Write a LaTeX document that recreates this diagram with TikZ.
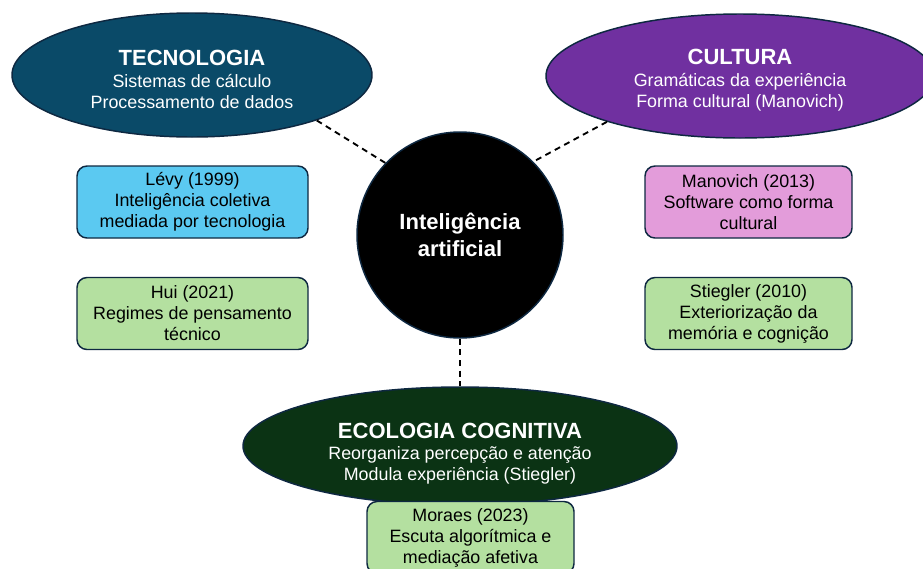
\documentclass[tikz,border=0pt]{standalone}
\usepackage{fontspec}
\setmainfont{Liberation Sans}
\usetikzlibrary{shapes.geometric}

\definecolor{tecblue}{HTML}{0A4A68}
\definecolor{cultpurple}{HTML}{7030A0}
\definecolor{ecogreen}{HTML}{0B3314}
\definecolor{levyblue}{HTML}{5BC9F1}
\definecolor{manopink}{HTML}{E39CDA}
\definecolor{refgreen}{HTML}{B4E0A0}
\definecolor{borda}{HTML}{0E2841}

\newcommand{\corpo}{\fontsize{13.4}{15.75}\selectfont}
\newcommand{\titulo}{\fontsize{16.5}{20}\selectfont\bfseries}

\begin{document}
\begin{tikzpicture}[x=0.75pt, y=-0.75pt,
	eixo/.style={ellipse, draw=borda, line width=1.1pt, inner sep=0pt, text=white, align=center, font=\corpo},
	refbox/.style={draw=borda, line width=1.1pt, rounded corners=7.5pt, minimum height=54pt, align=center, font=\corpo, inner sep=0pt},
	ligacao/.style={dash pattern=on 4.5pt off 3.5pt, line width=1.4pt, black}]

	\useasboundingbox (0,0) rectangle (923,568);

	% 三个椭圆
	\node[eixo, fill=tecblue, minimum width=270pt, minimum height=93pt] (tec) at (192,75)
		{{\titulo\rule{0pt}{18pt}TECNOLOGIA}\\[1pt] Sistemas de cálculo\\ Processamento de dados};
	\node[eixo, fill=cultpurple, minimum width=291pt, minimum height=93pt] (cult) at (740,76)
		{{\titulo\rule{0pt}{18pt}CULTURA}\\[1pt] Gramáticas da experiência\\ Forma cultural (Manovich)};
	\node[eixo, fill=ecogreen, minimum width=325.5pt, minimum height=88.5pt] (eco) at (460,446)
		{{\titulo\rule{0pt}{23.5pt}ECOLOGIA COGNITIVA}\\ Reorganiza percepção e atenção\\ Modula experiência (Stiegler)};

	% 中心圆
	\node[circle, draw=borda, line width=1.1pt, fill=black, minimum size=154.5pt, inner sep=0pt,
		text=white, align=center, font=\titulo] (ia) at (460,235) {Inteligência\\ artificial};

	% 虚线
	\draw[ligacao] (tec.-20) -- (ia.136);
	\draw[ligacao] (cult.199) -- (ia.45);
	\draw[ligacao] (ia) -- (eco);

	% 左侧
	\node[refbox, fill=levyblue, minimum width=173.25pt] (levy) at (192.5,202)
		{Lévy (1999)\\ Inteligência coletiva\\ mediada por tecnologia};
	\node[refbox, fill=refgreen, minimum width=173.25pt] (hui) at (192.5,313.5)
		{Hui (2021)\\ Regimes de pensamento\\ técnico};

	% 右侧
	\node[refbox, fill=manopink, minimum width=155.25pt] (mano) at (748.5,202)
		{Manovich (2013)\\ Software como forma\\ cultural};
	\node[refbox, fill=refgreen, minimum width=155.25pt] (stieg) at (748.5,313.5)
		{Stiegler (2010)\\ Exteriorização da\\ memória e cognição};

	% 底部
	\node[refbox, fill=refgreen, minimum width=155.25pt] (moraes) at (470.5,537.5)
		{Moraes (2023)\\ Escuta algorítmica e\\ mediação afetiva};

\end{tikzpicture}
\end{document}
